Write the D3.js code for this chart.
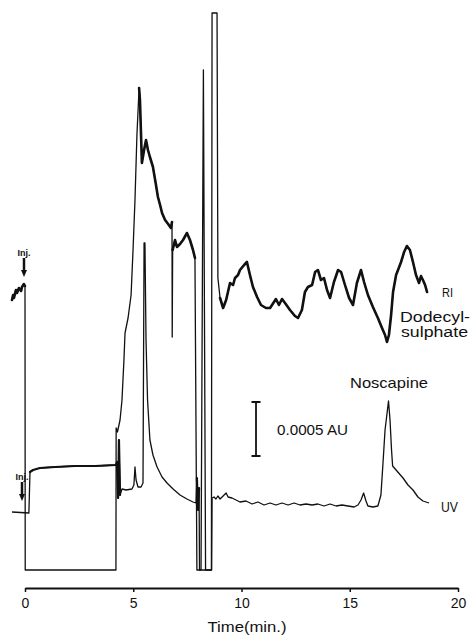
<!DOCTYPE html>
<html>
<head>
<meta charset="utf-8">
<script src="https://cdn.jsdelivr.net/npm/d3@7"></script>
<style>
body { margin: 0; background: #fff; }
text { font-family: "Liberation Sans", Arial, Helvetica, sans-serif; fill: #111; }
</style>
</head>
<body>
<div id="chart"></div>
<script>
// values (time in min, signal in recorder units)
var riTime = [-0.60,-0.55,-0.51,-0.42,-0.37,-0.28,-0.18,-0.14,-0.05,0,0.01,4.20,4.21,4.27,4.39,4.48,4.57,4.62,4.76,4.90,
  4.99,5.08,5.17,5.27,5.31,5.40,5.50,5.59,5.68,5.77,5.91,6.05,6.14,6.24,6.33,6.47,6.61,6.74,6.79,6.80,
  6.82,6.93,7.02,7.16,7.30,7.48,7.62,7.76,7.85,7.94,8.13,8.24,8.34,8.61,8.64,8.87,8.91,9.01,9.15,9.29,
  9.47,9.61,9.70,9.84,9.93,10.12,10.25,10.39,10.53,10.72,10.90,11.13,11.32,11.50,11.59,11.73,11.87,12.01,12.24,12.47,
  12.61,12.79,12.93,13.07,13.26,13.40,13.53,13.67,13.81,13.95,14.09,14.27,14.46,14.60,14.78,14.97,15.15,15.33,15.52,15.66,
  15.84,16.07,16.30,16.49,16.63,16.72,16.81,16.91,17.00,17.14,17.23,17.37,17.51,17.64,17.78,17.92,18.06,18.20,18.29,18.38,
  18.48,18.57];
var riSignal = [270,275,272,280,277,282,279,283,286,284,0,0,142,138,150,170,210,237,252,275,
  320,370,435,482,470,407,420,430,420,413,403,385,373,365,357,350,346,342,348,233,
  320,330,323,326,330,337,330,320,312,0,0,500,0,0,557,557,292,272,262,270,
  287,285,292,295,300,305,308,295,283,273,265,262,262,268,271,265,271,267,260,254,
  252,260,278,283,285,298,300,290,292,280,272,288,300,298,285,272,265,287,300,288,
  275,263,252,242,235,228,235,255,278,295,300,308,318,324,320,308,295,287,294,290,
  285,278];

var uvTime = [-0.60,0.18,0.23,0.37,0.69,1.39,2.31,3.23,4.20,4.25,4.30,4.34,4.39,4.48,4.67,4.94,5.03,5.08,5.13,5.22,
  5.36,5.45,5.50,5.54,5.59,5.66,5.77,5.91,6.10,6.33,6.56,6.84,7.16,7.48,7.76,7.90,7.94,7.99,8.04,8.06,
  8.62,8.64,8.73,8.82,8.91,9.01,9.15,9.29,9.38,9.56,9.75,9.93,10.21,10.49,10.76,11.04,11.32,11.59,11.87,12.15,
  12.43,12.70,12.98,13.26,13.53,13.81,14.09,14.37,14.64,14.92,15.20,15.38,15.52,15.64,15.75,15.84,16.07,16.30,16.44,16.53,
  16.63,16.79,16.86,16.93,16.98,17.14,17.46,17.69,17.92,18.15,18.38,18.66];
var uvSignal = [58,57,98,100,102,103,104,104,105,108,72,130,75,81,80,81,85,103,90,83,
  83,87,327,327,230,170,130,115,103,93,87,81,75,71,68,67,92,60,82,0,
  0,72,73,71,74,71,74,77,73,72,70,68,69,66,68,65,67,65,67,65,
  67,65,66,65,66,64,66,64,65,64,63,65,70,77,69,64,63,64,75,105,
  140,169,150,120,104,100,92,85,80,73,69,67];

var xTicks = [0, 5, 10, 15, 20];

// stretches where the pen moved slowly and left a heavier trace
var riHeavy = [[-1, 0], [5.25, 6.79], [6.82, 7.85], [8.95, 18.6]];
var uvHeavy = [[0.22, 4.22], [4.24, 4.45], [7.92, 8.05]];

var margin = {top: 10, right: 13, bottom: 49, left: 25},
    width = 471 - margin.left - margin.right,
    height = 637 - margin.top - margin.bottom;

var svg = d3.select("#chart")
  .append("svg")
    .attr("width", width + margin.left + margin.right)
    .attr("height", height + margin.top + margin.bottom)
  .append("g")
    .attr("transform", "translate(" + margin.left + "," + margin.top + ")");

var x = d3.scaleLinear().domain([0, 20]).range([0, width]);
var y = d3.scaleLinear().domain([-18, 560]).range([height, 0]);

var ri = d3.zip(riTime, riSignal);
var uv = d3.zip(uvTime, uvSignal);

function inRanges(ranges) {
  return function(d) {
    return ranges.some(function(r) { return d[0] >= r[0] && d[0] <= r[1]; });
  };
}

var line = d3.line()
  .x(function(d) { return x(d[0]); })
  .y(function(d) { return y(d[1]); });

function trace(data, thin, heavyRanges, heavy) {
  svg.append("path")
    .datum(data)
    .attr("fill", "none")
    .attr("stroke", "#111")
    .attr("stroke-width", thin)
    .attr("stroke-linejoin", "round")
    .attr("d", line);
  svg.append("path")
    .datum(data)
    .attr("fill", "none")
    .attr("stroke", "#111")
    .attr("stroke-width", heavy)
    .attr("stroke-linejoin", "round")
    .attr("stroke-linecap", "round")
    .attr("d", line.defined(inRanges(heavyRanges)));
  line.defined(function() { return true; });
}

trace(uv, 1.3, uvHeavy, 2.2);
trace(ri, 1.3, riHeavy, 2.6);

// X axis
var xAxis = svg.append("g")
  .attr("transform", "translate(0," + height + ")")
  .call(d3.axisBottom(x).tickValues(xTicks).tickSize(4).tickSizeOuter(0).tickPadding(6));
xAxis.select(".domain").attr("stroke", "#111").attr("stroke-width", 2);
xAxis.selectAll(".tick line").attr("stroke", "#111").attr("stroke-width", 1.5);
xAxis.selectAll("text")
  .style("font-family", "'Liberation Sans', Arial, sans-serif")
  .style("font-size", "14px")
  .attr("fill", "#111");

svg.append("text")
  .attr("x", 222)
  .attr("y", 622)
  .attr("text-anchor", "middle")
  .attr("textLength", 79)
  .attr("lengthAdjust", "spacingAndGlyphs")
  .style("font-size", "14px")
  .text("Time(min.)");

// trace labels
function label(txt, tx, ty, size, len) {
  svg.append("text")
    .attr("x", tx - margin.left)
    .attr("y", ty - margin.top)
    .attr("textLength", len)
    .attr("lengthAdjust", "spacingAndGlyphs")
    .style("font-size", size + "px")
    .text(txt);
}
label("RI", 442, 297, 13, 11);
label("Dodecyl-", 400, 322, 14, 70);
label("sulphate", 401, 337, 14, 67);
label("Noscapine", 350, 388, 15, 78);
label("0.0005 AU", 277, 435, 14, 71);
label("UV", 441, 512, 14, 17);

// 0.0005 AU scale bar
var barTime = 10.67, barTop = 168, barBottom = 114;
svg.append("path")
  .attr("fill", "none")
  .attr("stroke", "#111")
  .attr("stroke-width", 1.8)
  .attr("d", "M" + (x(barTime) - 4.5) + "," + y(barTop) + "h9" +
             "M" + x(barTime) + "," + y(barTop) + "V" + y(barBottom) +
             "M" + (x(barTime) - 4.5) + "," + y(barBottom) + "h9");

// injection markers
function inj(t, textY, y1, y2, dx) {
  var cx = x(t) + dx;
  svg.append("text")
    .attr("x", cx)
    .attr("y", textY - margin.top)
    .attr("text-anchor", "middle")
    .style("font-size", "9px")
    .style("font-weight", "bold")
    .text("Inj.");
  svg.append("path")
    .attr("stroke", "#111")
    .attr("stroke-width", 2.5)
    .attr("d", "M" + cx + "," + (y1 - margin.top) + "V" + (y2 - 6 - margin.top));
  svg.append("path")
    .attr("fill", "#111")
    .attr("d", "M" + (cx - 3) + "," + (y2 - 7 - margin.top) + "h6l-3,7z");
}
inj(0, 256, 258, 277, -1);
inj(0, 480, 482, 501, -3);
</script>
</body>
</html>
